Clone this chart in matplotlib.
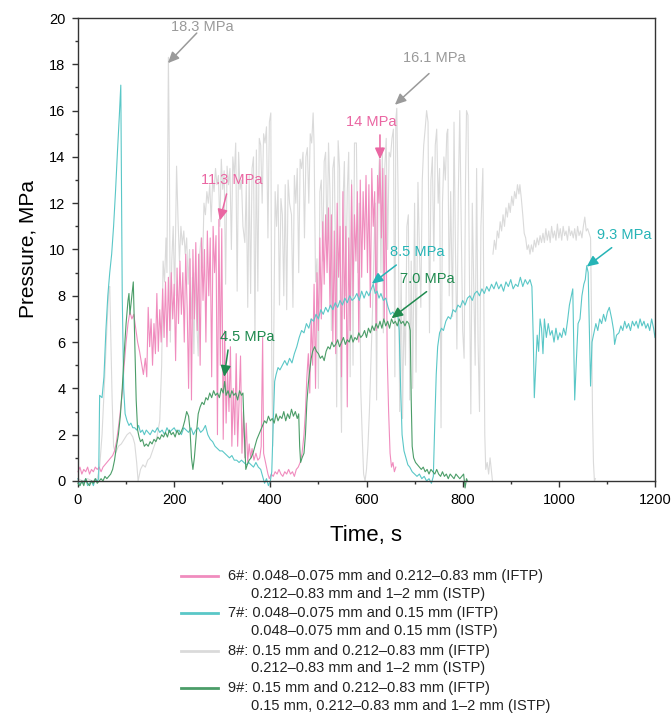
import numpy as np
import matplotlib.pyplot as plt
from matplotlib.lines import Line2D

plt.rcParams['font.family'] = ['Liberation Sans', 'DejaVu Sans']

# pressure records (time s, pressure MPa)
s6_points = [(0, 0.4), (4, 0.6), (8, 0.3), (12, 0.5), (16, 0.4), (20, 0.6), (24, 0.3), (28, 0.5), (32, 0.4),
             (36, 0.6), (40, 0.5), (44, 0.6), (48, 0.4), (52, 0.6), (56, 0.7), (60, 0.8), (64, 0.9), (68, 1.0),
             (72, 1.1), (76, 1.3), (80, 1.7), (84, 2.3), (88, 3.0), (92, 3.8), (96, 5.0), (100, 6.0), (104, 6.8),
             (108, 7.3), (112, 7.0), (116, 7.2), (120, 6.6), (124, 6.0), (128, 5.6), (132, 5.1), (136, 4.6),
             (140, 5.3), (143, 4.5), (146, 7.5), (149, 5.8), (152, 7.0), (155, 5.0), (158, 6.8), (161, 5.5),
             (164, 8.1), (167, 5.6), (170, 7.4), (173, 6.0), (176, 8.3), (179, 6.2), (182, 8.6), (185, 5.8),
             (188, 8.8), (191, 6.5), (194, 9.0), (197, 7.0), (200, 8.5), (203, 5.2), (206, 9.2), (209, 6.8),
             (212, 9.5), (215, 7.2), (218, 9.0), (221, 6.0), (224, 9.8), (227, 7.5), (230, 4.0), (233, 9.6),
             (236, 3.5), (239, 10.0), (242, 7.0), (245, 10.3), (248, 6.5), (251, 9.8), (254, 5.0), (257, 10.5),
             (260, 7.8), (263, 10.0), (266, 6.0), (269, 10.8), (272, 8.0), (275, 10.5), (278, 4.5), (281, 11.0),
             (284, 9.0), (287, 10.6), (290, 2.0), (293, 11.3), (296, 5.0), (299, 10.9), (302, 1.8), (305, 6.5),
             (308, 2.5), (311, 4.8), (314, 3.0), (317, 5.8), (320, 1.5), (323, 4.0), (326, 2.0), (329, 5.5),
             (332, 1.5), (335, 3.5), (338, 5.4), (341, 1.2), (344, 3.0), (347, 1.0), (350, 2.5), (353, 0.8),
             (356, 1.6), (359, 1.0), (362, 1.4), (366, 0.9), (370, 1.2), (374, 0.9), (378, 1.0), (381, 1.5),
             (384, 6.2), (386, 1.2), (389, 0.9), (392, 0.6), (395, 0.3), (398, 0.1), (402, 0.3), (406, 0.2),
             (410, 0.4), (414, 0.3), (418, 0.5), (422, 0.3), (426, 0.2), (430, 0.4), (434, 0.3), (438, 0.5),
             (442, 0.3), (446, 0.4), (450, 0.2), (454, 0.5), (458, 0.6), (462, 0.8), (466, 1.2), (470, 2.0),
             (473, 3.0), (476, 4.5), (479, 5.5), (482, 3.8), (485, 7.0), (488, 5.0), (491, 8.5), (494, 4.0),
             (497, 9.0), (500, 6.5), (503, 10.5), (506, 7.0), (509, 11.2), (512, 8.5), (515, 11.5), (518, 9.0),
             (521, 11.8), (524, 7.5), (527, 11.5), (530, 6.0), (533, 10.8), (536, 5.5), (539, 12.0), (542, 8.8),
             (545, 11.0), (548, 4.5), (551, 12.5), (554, 7.0), (557, 11.0), (560, 3.2), (563, 10.5), (566, 6.5),
             (569, 12.8), (572, 8.0), (575, 11.5), (578, 9.5), (581, 12.5), (584, 6.0), (587, 13.0), (590, 8.8),
             (593, 12.5), (596, 10.0), (599, 13.2), (602, 9.0), (605, 12.8), (608, 7.5), (611, 13.5), (614, 11.0),
             (617, 12.5), (620, 6.5), (623, 13.2), (626, 12.0), (628, 13.9), (631, 10.5), (634, 13.5), (637, 7.0),
             (640, 13.2), (643, 5.5), (646, 3.0), (649, 1.2), (652, 0.6), (655, 0.8), (658, 0.4), (661, 0.6)]

s7_points = [(0, 0.1), (4, -0.2), (8, 0.0), (12, -0.1), (16, 0.1), (20, -0.2), (24, -0.1), (28, 0.0), (32, -0.2),
             (36, 0.1), (40, 0.0), (43, 0.1), (45, 3.7), (50, 3.6), (54, 4.5), (58, 6.5), (62, 8.0), (66, 9.0),
             (70, 9.8), (74, 11.0), (78, 12.5), (82, 14.2), (86, 15.8), (89, 17.1), (90, 14.0), (92, 8.0),
             (95, 4.0), (98, 2.9), (102, 2.6), (106, 2.4), (110, 2.5), (114, 2.3), (118, 2.3), (122, 2.2),
             (126, 2.4), (130, 2.1), (134, 2.2), (138, 2.0), (142, 2.2), (146, 2.1), (150, 2.0), (155, 2.2),
             (160, 2.1), (165, 2.3), (170, 2.1), (175, 2.2), (180, 2.0), (185, 2.3), (190, 2.1), (195, 2.2),
             (200, 2.3), (205, 2.1), (210, 2.2), (215, 2.0), (220, 2.3), (225, 2.2), (230, 2.1), (235, 2.3),
             (240, 2.0), (245, 2.2), (250, 2.3), (255, 2.1), (260, 2.2), (265, 2.4), (270, 2.0), (275, 1.8),
             (280, 1.7), (285, 1.5), (290, 1.4), (295, 1.3), (300, 1.3), (305, 1.2), (310, 1.1), (315, 1.0),
             (320, 1.1), (325, 0.9), (330, 0.9), (335, 0.8), (340, 0.9), (345, 0.8), (350, 0.7), (355, 0.8),
             (360, 0.7), (365, 0.6), (370, 0.8), (375, 0.6), (380, 0.5), (384, 0.2), (388, -0.1), (392, 0.1),
             (396, -0.2), (400, 0.0), (403, 0.4), (406, 2.5), (409, 4.3), (412, 4.6), (416, 4.9), (420, 4.8),
             (425, 5.0), (430, 5.2), (435, 5.0), (440, 5.3), (445, 5.1), (450, 5.5), (455, 5.8), (460, 6.2),
             (465, 6.5), (470, 6.4), (475, 6.8), (480, 6.6), (485, 7.0), (490, 6.9), (495, 7.2), (500, 7.0),
             (505, 7.4), (510, 7.2), (515, 7.5), (520, 7.3), (525, 7.6), (530, 7.4), (535, 7.7), (540, 7.5),
             (545, 7.8), (550, 7.6), (555, 7.9), (560, 7.7), (565, 8.0), (570, 7.8), (575, 7.9), (580, 8.1),
             (585, 7.8), (590, 8.2), (595, 7.9), (600, 8.2), (605, 8.0), (610, 8.3), (614, 8.5), (618, 8.1),
             (622, 8.2), (626, 7.9), (630, 8.1), (635, 7.8), (640, 7.9), (645, 7.5), (650, 7.2), (655, 7.3),
             (660, 7.1), (665, 7.2), (668, 6.5), (671, 4.0), (674, 2.0), (678, 1.3), (682, 1.0), (686, 0.7),
             (690, 0.6), (695, 0.4), (700, 0.3), (705, 0.2), (710, 0.3), (715, 0.1), (720, 0.2), (725, 0.0),
             (730, 0.1), (735, -0.1), (739, 0.2), (742, 2.5), (745, 4.6), (748, 5.8), (752, 6.4), (756, 6.6),
             (760, 6.5), (765, 6.9), (770, 7.1), (775, 7.0), (780, 7.4), (785, 7.3), (790, 7.6), (795, 7.5),
             (800, 7.8), (805, 7.6), (810, 7.9), (815, 8.0), (820, 7.8), (825, 8.1), (830, 8.2), (835, 8.0),
             (840, 8.3), (845, 8.1), (850, 8.4), (855, 8.2), (860, 8.5), (865, 8.3), (870, 8.6), (875, 8.3),
             (880, 8.5), (885, 8.2), (890, 8.6), (895, 8.4), (900, 8.7), (905, 8.3), (910, 8.5), (915, 8.4),
             (920, 8.8), (925, 8.4), (930, 8.7), (935, 8.5), (940, 8.7), (944, 8.4), (947, 6.0), (949, 3.6),
             (952, 5.0), (955, 6.3), (958, 5.6), (961, 7.0), (964, 6.6), (967, 5.5), (970, 7.0), (974, 6.2),
             (978, 6.8), (982, 6.3), (986, 6.5), (990, 6.0), (994, 6.6), (998, 6.1), (1002, 6.4), (1006, 6.2),
             (1010, 6.6), (1014, 6.3), (1018, 6.9), (1022, 7.6), (1026, 8.0), (1029, 8.3), (1031, 6.0),
             (1033, 3.5), (1036, 5.0), (1040, 6.8), (1044, 7.0), (1048, 8.0), (1052, 8.5), (1055, 8.7),
             (1058, 9.3), (1061, 9.0), (1063, 7.0), (1066, 4.1), (1069, 6.0), (1073, 6.4), (1077, 6.8),
             (1081, 6.5), (1085, 7.0), (1089, 6.8), (1093, 7.2), (1097, 6.9), (1101, 7.3), (1105, 7.5),
             (1110, 7.0), (1114, 6.5), (1116, 5.9), (1120, 6.3), (1125, 6.4), (1129, 6.7), (1133, 6.5),
             (1137, 6.9), (1141, 6.6), (1145, 6.8), (1149, 6.5), (1153, 6.9), (1157, 6.7), (1161, 6.9),
             (1165, 6.6), (1169, 7.0), (1173, 6.7), (1177, 6.9), (1181, 6.6), (1185, 6.8), (1189, 6.5),
             (1193, 7.0), (1197, 6.6), (1200, 6.2)]

s8_points = [(0, 0.1), (10, 0.0), (20, 0.1), (30, 0.0), (40, 0.1), (45, 0.6), (50, 2.0), (55, 4.2), (60, 6.6),
             (64, 8.2), (66, 8.4), (68, 6.5), (71, 3.5), (74, 1.5), (78, 1.2), (84, 1.5), (90, 1.6), (96, 1.8),
             (102, 2.0), (108, 2.1), (114, 1.9), (118, 1.6), (122, 0.8), (125, 0.0), (130, 0.5), (135, 0.7),
             (140, 0.6), (145, 0.9), (150, 1.0), (155, 1.3), (160, 1.6), (165, 2.0), (170, 2.6), (174, 5.0),
             (177, 9.5), (180, 8.6), (183, 10.5), (185, 9.0), (188, 18.3), (190, 14.0), (192, 6.0), (195, 9.5),
             (198, 11.0), (201, 8.0), (205, 13.6), (208, 11.3), (211, 9.5), (214, 11.0), (217, 10.2), (220, 10.8),
             (223, 9.8), (226, 10.5), (229, 8.5), (232, 10.0), (235, 7.0), (238, 8.8), (241, 5.5), (244, 9.0),
             (247, 6.8), (250, 5.4), (253, 9.8), (256, 10.5), (259, 9.2), (262, 12.0), (265, 11.5), (268, 12.5),
             (271, 12.0), (274, 12.8), (277, 11.2), (280, 13.0), (283, 12.5), (286, 13.5), (289, 12.8),
             (292, 13.2), (295, 11.0), (298, 13.9), (301, 12.6), (304, 13.4), (307, 8.5), (310, 13.6),
             (313, 12.8), (316, 13.5), (319, 10.0), (322, 14.0), (325, 13.2), (328, 14.6), (331, 8.2),
             (334, 14.2), (337, 12.6), (340, 13.0), (343, 11.0), (347, 10.3), (350, 12.8), (353, 7.5),
             (356, 13.2), (359, 8.1), (362, 13.5), (365, 14.0), (368, 6.2), (371, 14.3), (374, 8.2), (377, 14.8),
             (380, 14.5), (383, 12.0), (386, 15.0), (389, 14.6), (392, 15.3), (395, 10.5), (398, 15.5),
             (401, 15.9), (403, 5.0), (405, 1.5), (407, 6.0), (410, 12.5), (413, 11.0), (416, 12.8), (419, 7.6),
             (422, 12.2), (425, 11.5), (428, 8.0), (431, 12.8), (434, 7.4), (437, 13.0), (440, 12.0),
             (444, 11.5), (447, 7.5), (450, 13.2), (453, 12.0), (456, 13.5), (459, 9.0), (462, 13.9),
             (465, 13.5), (468, 14.2), (471, 10.5), (474, 14.0), (477, 14.4), (480, 12.0), (483, 15.0),
             (486, 14.6), (489, 15.9), (491, 14.5), (494, 8.6), (497, 9.6), (500, 4.0), (503, 12.5), (506, 13.0),
             (509, 9.5), (512, 13.8), (515, 14.2), (518, 10.0), (521, 14.6), (524, 12.5), (527, 6.5), (530, 13.5),
             (533, 14.0), (536, 8.5), (538, 3.2), (541, 14.7), (544, 13.5), (546, 5.0), (548, 2.1), (551, 12.0),
             (554, 13.8), (557, 8.0), (560, 12.5), (563, 14.2), (566, 4.5), (569, 13.0), (572, 5.0), (575, 14.6),
             (579, 14.6), (582, 9.0), (585, 12.0), (588, 4.0), (591, 2.0), (594, 0.3), (597, 0.0), (600, 0.5),
             (603, 1.5), (606, 3.0), (609, 5.0), (612, 7.0), (615, 9.5), (618, 12.0), (621, 3.5), (624, 12.5),
             (627, 14.0), (630, 9.0), (633, 14.4), (635, 6.4), (638, 13.5), (641, 14.8), (644, 10.0), (647, 14.2),
             (650, 14.0), (653, 14.8), (656, 15.2), (659, 4.5), (661, 15.6), (663, 16.1), (666, 12.0), (669, 3.0),
             (672, 9.0), (675, 2.7), (678, 7.5), (681, 5.0), (684, 11.0), (687, 11.5), (690, 3.5), (693, 9.5),
             (696, 4.0), (700, 12.0), (703, 4.7), (707, 12.9), (710, 10.0), (713, 7.5), (716, 13.0), (719, 14.5),
             (722, 15.2), (725, 16.0), (728, 15.5), (731, 6.4), (734, 13.0), (737, 14.0), (740, 9.5), (743, 14.5),
             (746, 15.2), (749, 12.0), (752, 13.5), (755, 2.3), (758, 12.0), (761, 14.0), (764, 13.0),
             (767, 15.0), (769, 15.2), (772, 8.0), (775, 12.5), (779, 7.1), (782, 15.5), (785, 10.0), (788, 5.7),
             (791, 12.5), (794, 16.0), (797, 11.0), (800, 6.5), (803, 5.3), (806, 13.0), (808, 16.0), (811, 15.8),
             (814, 9.0), (817, 2.9), (820, 12.0), (823, 8.5), (826, 5.0), (829, 13.5), (832, 6.0), (835, 3.0),
             (838, 11.0), (842, 13.5), (844, 8.0), (846, 2.0), (848, 0.5), (851, 0.8), (854, 0.3), (857, 1.0),
             (860, 0.4), (862, 0.0)]

# second part of 8# after the pause (separate record)
s8b_points = [(863, 9.8), (866, 10.4), (869, 10.0), (872, 10.8), (875, 10.5), (878, 11.2), (881, 10.8),
              (884, 11.5), (887, 11.0), (890, 11.8), (893, 11.4), (896, 12.0), (899, 11.6), (902, 12.3),
              (905, 11.9), (908, 12.5), (911, 12.2), (914, 12.8), (917, 12.4), (919, 12.8), (922, 12.2),
              (925, 11.5), (928, 10.7), (931, 10.5), (934, 10.0), (937, 10.2), (940, 9.8), (943, 10.2),
              (946, 9.9), (949, 10.4), (952, 10.1), (955, 10.5), (958, 10.2), (961, 10.6), (964, 10.3),
              (967, 10.7), (970, 10.3), (973, 10.9), (976, 10.4), (979, 10.8), (982, 10.3), (985, 11.0),
              (988, 10.5), (991, 10.8), (994, 10.4), (997, 11.1), (1000, 10.5), (1003, 10.9), (1006, 10.4),
              (1009, 11.0), (1012, 10.6), (1015, 10.8), (1018, 10.4), (1021, 11.0), (1024, 10.6), (1027, 10.8),
              (1030, 10.5), (1033, 10.9), (1036, 10.4), (1039, 11.0), (1042, 10.6), (1045, 10.8), (1048, 10.5),
              (1051, 11.0), (1054, 11.4), (1057, 10.8), (1060, 10.9), (1063, 10.7), (1066, 10.5), (1068, 7.0),
              (1070, 3.0), (1072, 0.8), (1074, 0.0), (1076, 0.1)]

s9_points = [(0, -0.1), (4, -0.2), (8, 0.0), (12, -0.2), (16, 0.1), (20, -0.1), (24, -0.2), (28, 0.0), (32, -0.1),
             (36, 0.1), (40, -0.1), (44, 0.0), (48, 0.1), (52, 0.0), (56, 0.2), (60, 0.1), (64, 0.2), (68, 0.3),
             (72, 0.5), (76, 0.9), (80, 1.5), (84, 2.0), (88, 2.8), (92, 4.0), (96, 5.5), (100, 6.8), (104, 7.8),
             (106, 8.1), (108, 7.2), (111, 7.8), (115, 8.6), (118, 6.0), (121, 3.5), (124, 2.2), (127, 1.9),
             (130, 1.7), (134, 1.8), (138, 1.5), (142, 1.6), (146, 1.5), (150, 1.7), (154, 1.6), (158, 1.8),
             (162, 1.7), (166, 1.9), (170, 1.8), (174, 2.0), (178, 1.9), (182, 2.1), (186, 1.9), (190, 2.2),
             (194, 2.0), (198, 2.1), (202, 1.9), (206, 2.2), (210, 2.0), (214, 2.1), (218, 2.3), (222, 2.6),
             (226, 3.0), (230, 2.8), (233, 2.2), (236, 1.0), (239, 0.5), (242, 1.0), (246, 2.0), (250, 2.9),
             (254, 3.2), (258, 3.4), (262, 3.3), (266, 3.6), (270, 3.5), (274, 3.8), (278, 3.6), (282, 3.9),
             (286, 3.7), (290, 3.8), (294, 3.6), (298, 4.0), (302, 3.8), (305, 4.3), (308, 3.7), (312, 3.9),
             (316, 3.6), (320, 3.9), (324, 3.7), (328, 3.8), (332, 3.5), (336, 3.9), (340, 3.7), (343, 3.8),
             (346, 2.0), (349, 0.5), (352, 0.7), (356, 0.9), (360, 1.0), (364, 1.2), (368, 1.5), (372, 1.8),
             (376, 2.0), (380, 2.2), (384, 2.4), (388, 2.6), (392, 2.5), (396, 2.8), (400, 2.6), (404, 2.7),
             (408, 2.5), (412, 2.9), (416, 2.6), (420, 2.8), (424, 2.7), (428, 3.0), (432, 2.6), (436, 2.9),
             (440, 2.7), (444, 3.1), (448, 2.8), (452, 3.0), (456, 2.7), (459, 2.9), (461, 1.5), (463, 0.8),
             (466, 1.0), (470, 1.2), (473, 2.0), (476, 3.4), (479, 4.2), (482, 4.8), (485, 5.3), (488, 5.6),
             (492, 5.8), (496, 5.6), (500, 5.5), (504, 5.3), (508, 5.4), (512, 5.2), (516, 5.6), (520, 5.8),
             (524, 5.7), (528, 6.0), (532, 5.8), (536, 5.9), (540, 6.1), (544, 5.8), (548, 6.0), (552, 6.2),
             (556, 5.9), (560, 6.1), (564, 6.0), (568, 6.3), (572, 6.0), (576, 6.2), (580, 6.1), (584, 6.4),
             (588, 6.2), (592, 6.3), (596, 6.5), (600, 6.2), (604, 6.6), (608, 6.4), (612, 6.7), (616, 6.5),
             (620, 6.8), (624, 6.6), (628, 6.9), (632, 6.6), (636, 7.0), (640, 6.7), (644, 6.9), (648, 6.6),
             (652, 7.0), (656, 6.8), (660, 6.9), (664, 6.7), (668, 7.0), (672, 6.8), (676, 6.9), (680, 6.7),
             (684, 6.9), (688, 6.8), (691, 6.5), (693, 3.5), (695, 1.5), (698, 1.0), (702, 0.8), (706, 0.7),
             (710, 0.6), (714, 0.5), (718, 0.6), (722, 0.4), (726, 0.5), (730, 0.3), (734, 0.5), (738, 0.4),
             (742, 0.3), (746, 0.5), (750, 0.3), (754, 0.2), (758, 0.4), (762, 0.2), (766, 0.3), (770, 0.1),
             (774, 0.3), (778, 0.2), (782, 0.1), (786, 0.3), (790, 0.2), (794, 0.1), (798, 0.2), (802, 0.3),
             (805, -0.3), (808, 0.1), (810, 0.0)]

legend_labels = [
    ("6#: 0.048\u20130.075 mm and 0.212\u20130.83 mm (IFTP)", "0.212\u20130.83 mm and 1\u20132 mm (ISTP)"),
    ("7#: 0.048\u20130.075 mm and 0.15 mm (IFTP)", "0.048\u20130.075 mm and 0.15 mm (ISTP)"),
    ("8#: 0.15 mm and 0.212\u20130.83 mm (IFTP)", "0.212\u20130.83 mm and 1\u20132 mm (ISTP)"),
    ("9#: 0.15 mm and 0.212\u20130.83 mm (IFTP)", "0.15 mm, 0.212\u20130.83 mm and 1\u20132 mm (ISTP)"),
]

# peak notes: text, text position, arrow tail, arrow tip
peak_notes = [
    ("18.3 MPa", (258, 19.6), (247, 19.35), (187, 18.05), '#9a9a9a'),
    ("16.1 MPa", (740, 18.27), (730, 17.6), (659, 16.25), '#9a9a9a'),
    ("11.3 MPa", (320, 13.0), (309, 12.4), (295, 11.25), '#ea66a2'),
    ("14 MPa", (609, 15.52), (628, 14.95), (628, 13.9), '#ea66a2'),
    ("8.5 MPa", (706, 9.9), (662, 9.33), (611, 8.52), '#26b4b6'),
    ("7.0 MPa", (726, 8.73), (725, 8.18), (652, 7.03), '#1f8a4f'),
    ("4.5 MPa", (353, 6.23), (312, 5.66), (304, 4.5), '#1f8a4f'),
    ("9.3 MPa", (1137, 10.63), (1110, 10.08), (1058, 9.26), '#26b4b6'),
]

col6 = '#f08cbe'
col7 = '#5ac7c7'
col8 = '#dadada'
col9 = '#4b9d68'

W, H = 671, 713
fig = plt.figure(figsize=(W / 100, H / 100), dpi=100)
ax = fig.add_axes([78 / W, 1 - 481 / H, (655 - 78) / W, (481 - 18) / H])

t8, p8 = zip(*s8_points)
t8b, p8b = zip(*s8b_points)
t6, p6 = zip(*s6_points)
t7, p7 = zip(*s7_points)
t9, p9 = zip(*s9_points)

ax.plot(t8, p8, color=col8, lw=0.8, clip_on=False)
ax.plot(t8b, p8b, color=col8, lw=0.8, clip_on=False)
ax.plot(t6, p6, color=col6, lw=0.8, clip_on=False)
ax.plot(t7, p7, color=col7, lw=0.8, clip_on=False)
ax.plot(t9, p9, color=col9, lw=0.8, clip_on=False)

for txt, tpos, tail, tip, c in peak_notes:
    ax.text(tpos[0], tpos[1], txt, color=c, fontsize=10.5, ha='center', va='center')
    ax.annotate('', xy=tip, xytext=tail,
                arrowprops=dict(arrowstyle='-|>,head_length=0.55,head_width=0.25', color=c, lw=1.1,
                                shrinkA=0, shrinkB=0, mutation_scale=12))

ax.set_xlim(0, 1200)
ax.set_ylim(0, 20)
ax.set_xticks(np.arange(0, 1201, 200))
ax.set_xticks(np.arange(0, 1201, 100), minor=True)
ax.set_yticks(np.arange(0, 21, 2))
ax.set_yticks(np.arange(0, 21, 1), minor=True)
ax.tick_params(which='major', direction='out', length=4, width=1, labelsize=10.5, pad=5, color='#333333')
ax.tick_params(which='minor', direction='out', length=2.5, width=1, color='#333333')
for sp in ax.spines.values():
    sp.set_color('#333333')
    sp.set_linewidth(1.0)

ax.set_xlabel("Time, s", fontsize=16)
ax.set_ylabel("Pressure, MPa", fontsize=15)
ax.xaxis.set_label_coords(0.5, -0.095)
ax.yaxis.set_label_coords(-0.07, 0.5)

# legend drawn below the plot
handle_cols = [col6, col7, col8, col9]
for i, (l1, l2) in enumerate(legend_labels):
    y1 = 576 + i * 37.3
    y2 = y1 + 17.8
    fig.add_artist(Line2D([181 / W, 218 / W], [1 - y1 / H, 1 - y1 / H], color=handle_cols[i], lw=2,
                          transform=fig.transFigure))
    fig.text(228 / W, 1 - y1 / H, l1, fontsize=10.5, va='center', ha='left', color='#222222')
    fig.text(251 / W, 1 - y2 / H, l2, fontsize=10.5, va='center', ha='left', color='#222222')

fig.savefig("out.png", dpi=100)
